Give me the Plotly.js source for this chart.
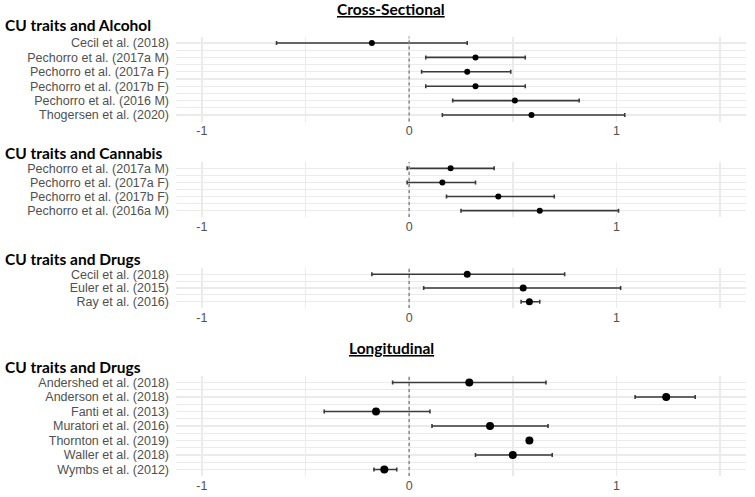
<!DOCTYPE html>
<html><head><meta charset="utf-8">
<script src="https://cdn.plot.ly/plotly-3.0.1.min.js"></script>
<style>html,body{margin:0;padding:0;background:#fff}#chart{width:755px;height:497px}</style>
</head><body><div id="chart"></div><script>
// ---- data ----
const alcoholStudies = ["Cecil et al. (2018)", "Pechorro et al. (2017a M)", "Pechorro et al. (2017a F)", "Pechorro et al. (2017b F)", "Pechorro et al. (2016 M)", "Thogersen et al. (2020)"];
const alcoholEst  = [-0.18, 0.32, 0.28, 0.32, 0.51, 0.59];
const alcoholLow  = [-0.64, 0.08, 0.06, 0.08, 0.21, 0.16];
const alcoholHigh = [0.28, 0.56, 0.49, 0.56, 0.82, 1.04];

const cannabisStudies = ["Pechorro et al. (2017a M)", "Pechorro et al. (2017a F)", "Pechorro et al. (2017b F)", "Pechorro et al. (2016a M)"];
const cannabisEst  = [0.20, 0.16, 0.43, 0.63];
const cannabisLow  = [-0.01, -0.01, 0.18, 0.25];
const cannabisHigh = [0.41, 0.32, 0.70, 1.01];

const drugsCsStudies = ["Cecil et al. (2018)", "Euler et al. (2015)", "Ray et al. (2016)"];
const drugsCsEst  = [0.28, 0.55, 0.58];
const drugsCsLow  = [-0.18, 0.07, 0.54];
const drugsCsHigh = [0.75, 1.02, 0.63];

const drugsLongStudies = ["Andershed et al. (2018)", "Anderson et al. (2018)", "Fanti et al. (2013)", "Muratori et al. (2016)", "Thornton et al. (2019)", "Waller et al. (2018)", "Wymbs et al. (2012)"];
const drugsLongEst  = [0.29, 1.24, -0.16, 0.39, 0.58, 0.50, -0.12];
const drugsLongLow  = [-0.08, 1.09, -0.41, 0.11, 0.58, 0.32, -0.17];
const drugsLongHigh = [0.66, 1.38, 0.10, 0.67, 0.58, 0.69, -0.06];

const panelTitles = ["CU traits and Alcohol", "CU traits and Cannabis", "CU traits and Drugs", "CU traits and Drugs"];
const sectionTitles = ["Cross-Sectional", "Longitudinal"];
const xTicks = [-1, 0, 1];
const xMinorTicks = [-0.5, 0.5, 1.5];
const xRange = [-1.125, 1.625];
const refLine = 0;

// ---- layout geometry (page pixels) ----
const W = 755, H = 497;
const plotLeft = 176, plotRight = 746;
const panelBoxes = [[36.5, 121.5], [162, 217], [268, 308], [376, 476]];
const titleY = [25, 153, 259, 367];
const sectionY = [9, 348];
const sectionX = 391;
const dotSize = [6, 6, 7, 8];
const rowPad = 0.45;

const panels = [
  {s: alcoholStudies, e: alcoholEst, lo: alcoholLow, hi: alcoholHigh},
  {s: cannabisStudies, e: cannabisEst, lo: cannabisLow, hi: cannabisHigh},
  {s: drugsCsStudies, e: drugsCsEst, lo: drugsCsLow, hi: drugsCsHigh},
  {s: drugsLongStudies, e: drugsLongEst, lo: drugsLongLow, hi: drugsLongHigh}
];

const tickFont = {family: "Liberation Sans, Arial, sans-serif", size: 12.5, color: "#505050"};
const titleFont = {family: "Lato, sans-serif", size: 15.5, color: "#000000", weight: 700};
const gridColor = "#ebebeb";

const data = [];
const layout = {
  width: W, height: H, margin: {l: 0, r: 0, t: 0, b: 0},
  paper_bgcolor: "#ffffff", plot_bgcolor: "#ffffff",
  showlegend: false, shapes: [], annotations: []
};

panels.forEach((p, k) => {
  const idx = p.s.map((_, i) => i);
  const n = p.s.length;
  const sfx = k === 0 ? "" : String(k + 1);
  data.push({
    type: "scatter", mode: "markers",
    x: p.e, y: idx,
    xaxis: "x" + sfx, yaxis: "y" + sfx,
    marker: {color: "#000000", size: dotSize[k]},
    error_x: {
      type: "data", symmetric: false,
      array: p.hi.map((h, i) => h - p.e[i]),
      arrayminus: p.lo.map((l, i) => p.e[i] - l),
      color: "#3a3a3a", thickness: 1.6, width: 2
    },
    hoverinfo: "skip"
  });
  const [top, bot] = panelBoxes[k];
  layout["xaxis" + sfx] = {
    domain: [plotLeft / W, plotRight / W], range: xRange, anchor: "y" + sfx,
    tickmode: "array", tickvals: xTicks, ticktext: xTicks.map(String),
    showgrid: true, gridcolor: gridColor, gridwidth: 1.5,
    minor: {tickmode: "array", tickvals: xMinorTicks, showgrid: true, gridcolor: gridColor, gridwidth: 1.5, ticklen: 0},
    zeroline: false, showline: false, ticks: "", tickfont: tickFont, fixedrange: true
  };
  layout["yaxis" + sfx] = {
    domain: [1 - bot / H, 1 - top / H], range: [n - 1 + rowPad, -rowPad], anchor: "x" + sfx,
    tickmode: "array", tickvals: idx, ticktext: p.s,
    showgrid: true, gridcolor: gridColor, gridwidth: 1.2,
    minor: {tickmode: "array", tickvals: idx.map(i => i + 0.5), showgrid: true, gridcolor: gridColor, gridwidth: 1.2, ticklen: 0},
    zeroline: false, showline: false, ticks: "", tickfont: tickFont,
    ticklabelstandoff: 6, automargin: false, fixedrange: true
  };
  layout.shapes.push({
    type: "line", xref: "x" + sfx, yref: "y" + sfx + " domain",
    x0: refLine, x1: refLine, y0: 0, y1: 1,
    line: {color: "#8a8a8a", width: 1.5, dash: "3px,3px"}, layer: "above"
  });
  layout.annotations.push({
    text: panelTitles[k], xref: "paper", yref: "paper",
    x: 3 / W, y: 1 - titleY[k] / H, xanchor: "left", yanchor: "middle",
    showarrow: false, font: titleFont
  });
});

sectionTitles.forEach((t, j) => {
  layout.annotations.push({
    text: "<u>" + t + "</u>", xref: "paper", yref: "paper",
    x: sectionX / W, y: 1 - sectionY[j] / H, xanchor: "center", yanchor: "middle",
    showarrow: false, font: titleFont
  });
});

Plotly.newPlot("chart", data, layout, {displayModeBar: false, staticPlot: true});
</script></body></html>
